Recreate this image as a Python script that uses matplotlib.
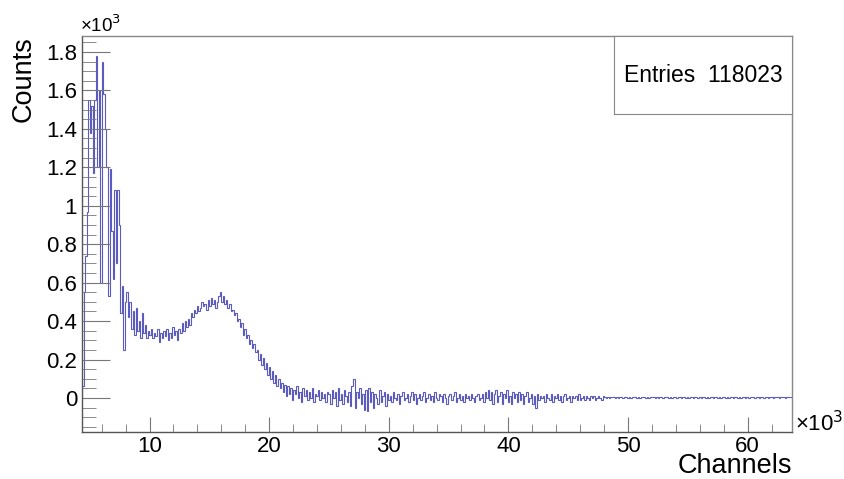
import matplotlib
matplotlib.use('agg')
import matplotlib.pyplot as plt
from matplotlib.ticker import MultipleLocator, FormatStrFormatter
import numpy as np

# Histogramme : 128 canaux par bin, du canal 4352 au canal 63744
first_channel = 4352
bin_width = 128

# Comptages par bin, en milliers
counts_peak = [0.06, 0.55, 0.74, 0.97, 1.55, 1.38, 1.52, 1.17, 1.55, 1.78,
               1.20, 1.60, 0.60, 1.75, 1.58, 1.40, 1.20, 0.53, 1.19, 0.87,
               0.62, 1.08, 0.70, 1.08, 0.90, 0.44, 0.58, 0.25, 0.50, 0.55]
counts_valley = [0.42, 0.50, 0.36, 0.45, 0.33, 0.47, 0.35, 0.40, 0.31, 0.44,
                 0.34, 0.38, 0.31, 0.35, 0.33, 0.36, 0.31, 0.34, 0.32, 0.36,
                 0.29, 0.34, 0.31, 0.35, 0.32]
counts_rise = [0.36, 0.30, 0.34, 0.31, 0.37, 0.33, 0.35, 0.30, 0.36, 0.34,
               0.39, 0.35, 0.40, 0.37, 0.41, 0.38, 0.44, 0.42, 0.46, 0.44,
               0.48, 0.45, 0.47, 0.50, 0.48, 0.49, 0.46, 0.51, 0.48, 0.52,
               0.49, 0.51, 0.47, 0.50, 0.53, 0.55]
counts_fall = [0.50, 0.53, 0.49, 0.51, 0.47, 0.49, 0.45, 0.46, 0.43, 0.44,
               0.40, 0.41, 0.37, 0.39, 0.33, 0.36, 0.31, 0.33, 0.28, 0.30,
               0.26, 0.28, 0.24, 0.25, 0.20, 0.23, 0.17, 0.21, 0.15, 0.18,
               0.12, 0.16, 0.10, 0.14, 0.08, 0.12, 0.06, 0.10, 0.05, 0.08]
counts_tail1 = [0.03, 0.07, 0.01, 0.06, 0.02, 0.05, -0.01, 0.04, 0.02, 0.06,
                0.00, 0.03, -0.02, 0.05, 0.01, 0.04, -0.01, 0.03, 0.00, 0.05,
                -0.02, 0.02, 0.01, 0.04, -0.01, 0.03, 0.00, 0.02, -0.02, 0.03]
counts_tail2 = [0.02, -0.03, 0.04, 0.00, 0.03, -0.04, 0.05, -0.01, 0.02, -0.03,
                0.04, 0.01, -0.02, 0.03, -0.04, 0.06, 0.10, -0.05, 0.03, 0.00,
                0.05, -0.03, 0.02, -0.06, 0.04, -0.07, 0.05, -0.02, 0.03, -0.05,
                0.02, 0.00, -0.03, 0.04, -0.02, 0.01, 0.03, -0.04, 0.02, -0.01]
counts_tail3 = [0.01, -0.02, 0.03, 0.00, -0.01, 0.02, -0.03, 0.01, 0.03, -0.01,
                0.00, 0.02, -0.02, 0.01, 0.03, -0.01, 0.02, -0.03, 0.00, 0.02,
                -0.01, 0.01, 0.03, -0.02, 0.00, 0.02, -0.01, 0.01, -0.02, 0.03,
                0.00, -0.01, 0.02, 0.01, -0.02, 0.02, 0.00, -0.03, 0.01, 0.02,
                -0.01, 0.01, 0.03, -0.02, 0.00, 0.02, -0.01, 0.01, -0.02, 0.02,
                0.00, 0.01, -0.01, 0.02, 0.00, -0.02, 0.01, 0.02, -0.01, 0.00]
counts_tail4 = [0.02, -0.02, 0.03, 0.00, 0.04, -0.01, 0.03, -0.03, 0.02, 0.04,
                -0.02, 0.01, 0.03, -0.03, 0.02, 0.00, 0.04, -0.02, 0.01, -0.03,
                0.03, 0.00, 0.02, -0.02, 0.03, -0.01, 0.02, -0.03, 0.01, 0.03,
                -0.02, 0.00, 0.02, -0.03, 0.01, -0.05, 0.02, -0.01, 0.01, 0.00]
counts_tail5 = [0.01, -0.02, 0.02, 0.00, -0.01, 0.02, -0.02, 0.01, 0.00, 0.02,
                -0.01, 0.01, -0.02, 0.01, 0.02, -0.01, 0.00, 0.01, -0.02, 0.01,
                0.00, 0.01, -0.01, 0.02, -0.01, 0.00, 0.01, -0.01, 0.01, 0.00,
                -0.01, 0.01, 0.00, 0.01, -0.01, 0.00, 0.01, 0.00, -0.01, 0.01]
counts_flat = [0.006, 0.002, 0.005, 0.001, 0.007, 0.003, 0.004, 0.000, 0.006, 0.002,
               0.005, 0.003, 0.001, 0.006, 0.004, 0.002, 0.005, 0.000, 0.004, 0.003,
               0.006, 0.002, 0.004, 0.001, 0.005, 0.003, 0.004, 0.002, 0.006, 0.001,
               0.004, 0.003, 0.005, 0.002, 0.004, 0.001, 0.005, 0.003, 0.002, 0.004,
               0.003, 0.005, 0.002, 0.004, 0.001, 0.003, 0.004, 0.002, 0.005, 0.003,
               0.002, 0.004, 0.003, 0.001, 0.004, 0.002, 0.003, 0.004, 0.002, 0.003,
               0.004, 0.002, 0.003, 0.001, 0.003, 0.004, 0.002, 0.003, 0.002, 0.004,
               0.003, 0.002, 0.003, 0.004, 0.002, 0.003, 0.001, 0.003, 0.004, 0.002,
               0.003, 0.002, 0.004, 0.003, 0.002, 0.003, 0.004, 0.002, 0.003, 0.002,
               0.003, 0.004, 0.002, 0.003, 0.002, 0.003, 0.004, 0.003, 0.002, 0.003,
               0.004, 0.002, 0.003, 0.003, 0.002, 0.004, 0.003, 0.002, 0.003, 0.004,
               0.002, 0.003, 0.003, 0.004, 0.002, 0.003, 0.004, 0.003, 0.002, 0.003,
               0.004, 0.003, 0.003]

entries = 118023

counts = np.array(counts_peak + counts_valley + counts_rise + counts_fall
                  + counts_tail1 + counts_tail2 + counts_tail3 + counts_tail4
                  + counts_tail5 + counts_flat)
edges = (first_channel + bin_width * np.arange(len(counts) + 1)) / 1000.0

plt.rcParams['font.family'] = ['Liberation Sans', 'DejaVu Sans']

fig = plt.figure(figsize=(8.45, 4.79), dpi=100, facecolor='white')
ax = fig.add_axes([82/845, 47/479, 710/845, 396/479])

ax.stairs(counts, edges, color='#5b5bbf', linewidth=0.8)

ax.set_xlim(edges[0], 63.71)
ax.set_ylim(-0.177, 1.883)

# Axes facon ROOT
ax.xaxis.set_major_locator(MultipleLocator(10))
ax.xaxis.set_minor_locator(MultipleLocator(2))
ax.yaxis.set_major_locator(MultipleLocator(0.2))
ax.yaxis.set_minor_locator(MultipleLocator(0.05))
ax.xaxis.set_major_formatter(FormatStrFormatter('%g'))
ax.yaxis.set_major_formatter(FormatStrFormatter('%g'))
ax.tick_params(axis='both', which='both', direction='in', colors='#777777',
               labelcolor='black', labelsize=16, top=False, right=False)
ax.tick_params(axis='x', which='major', length=11, pad=3)
ax.tick_params(axis='x', which='minor', length=5.5)
ax.tick_params(axis='y', which='major', length=20, pad=3.5)
ax.tick_params(axis='y', which='minor', length=10)
for side in ['top', 'right', 'bottom', 'left']:
    ax.spines[side].set_color('#888888')
    ax.spines[side].set_linewidth(1.0)
ax.spines['left'].set_color('#555555')
ax.spines['bottom'].set_color('#555555')

fig.text(792/845, 1 - 466/479, 'Channels', fontsize=19.5, ha='right', va='center')
fig.text(24/845, 1 - 36/479, 'Counts', fontsize=19.5, ha='center', va='top',
         rotation=90)

fig.text(80/845, 1 - 25/479, '\u00d710$^3$', fontsize=13.5, ha='left', va='center')
fig.text(795/845, 1 - 424/479, '\u00d710$^3$', fontsize=16, ha='left', va='center')

# Boite de statistiques
stats = ax.inset_axes([614/845, 1 - 114/479, 178/845, 78/479], transform=fig.transFigure)
stats.set_xticks([])
stats.set_yticks([])
for side in stats.spines:
    stats.spines[side].set_color('#888888')
stats.text(0.5, 0.5, 'Entries  %d' % entries, fontsize=16.5, ha='center', va='center',
           transform=stats.transAxes)

fig.savefig('out.png', dpi=100)
plt.close()
